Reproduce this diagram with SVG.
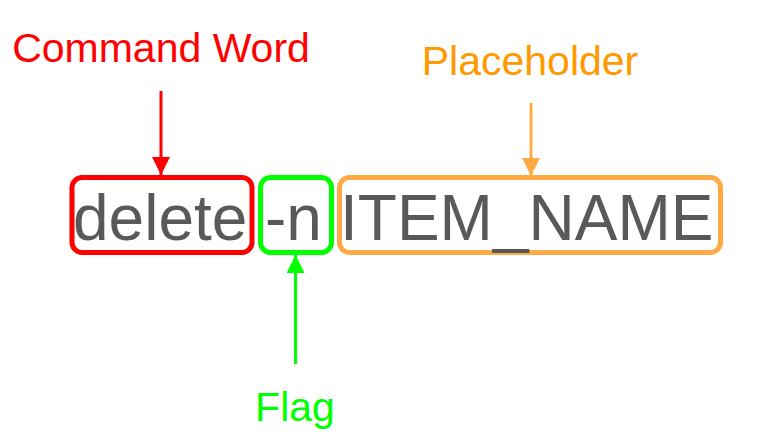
<svg xmlns="http://www.w3.org/2000/svg" width="776" height="444" viewBox="0 0 776 444">
<style>
.t{font-family:"Liberation Sans",Arial,sans-serif;}
.code{font-size:64px;fill:#595959;}
.lbl{font-size:41px;text-anchor:middle;}
.box{fill:none;stroke-width:5;}
.conn{stroke-width:3;fill:none;}
</style>
<defs>
<marker id="ahR" markerUnits="userSpaceOnUse" markerWidth="18" markerHeight="20" viewBox="0 0 18 20" refX="18" refY="9" orient="auto"><path d="M0,0 L18,9 L0,18 Z" fill="#FF0000"/></marker>
<marker id="ahG" markerUnits="userSpaceOnUse" markerWidth="18" markerHeight="20" viewBox="0 0 18 20" refX="18" refY="9" orient="auto"><path d="M0,0 L18,9 L0,18 Z" fill="#00FF00"/></marker>
<marker id="ahO" markerUnits="userSpaceOnUse" markerWidth="18" markerHeight="20" viewBox="0 0 18 20" refX="18" refY="9" orient="auto"><path d="M0,0 L18,9 L0,18 Z" fill="#FFAA44"/></marker>
</defs>
<rect width="776" height="444" fill="#FFFFFF"/>
<g id="command">
<rect class="box" x="72" y="177.5" width="180" height="75" rx="10" stroke="#FF0000"/>
<text class="t code" x="73" y="240">delete</text>
</g>
<g id="flag">
<rect class="box" x="260.5" y="177.5" width="71" height="75" rx="10" stroke="#00FF00"/>
<text class="t code" x="265" y="240">-n</text>
</g>
<g id="placeholder">
<rect class="box" x="339.5" y="177.5" width="381" height="75" rx="10" stroke="#FFAA44"/>
<text class="t code" x="340" y="240">ITEM_NAME</text>
</g>
<g id="label-command">
<text class="t lbl" x="161" y="62" fill="#FF0000">Command Word</text>
</g>
<g id="label-placeholder">
<text class="t lbl" x="530" y="75" fill="#FF9900">Placeholder</text>
</g>
<g id="label-flag">
<text class="t lbl" x="295" y="421" fill="#00FF00">Flag</text>
</g>
<g id="connectors">
<line class="conn" x1="161" y1="91" x2="161" y2="175" stroke="#FF0000" marker-end="url(#ahR)"/>
<line class="conn" x1="531" y1="103" x2="531" y2="176" stroke="#FFAA44" marker-end="url(#ahO)"/>
<line class="conn" x1="295.5" y1="364" x2="295.5" y2="255" stroke="#00FF00" marker-end="url(#ahG)"/>
</g>
</svg>
